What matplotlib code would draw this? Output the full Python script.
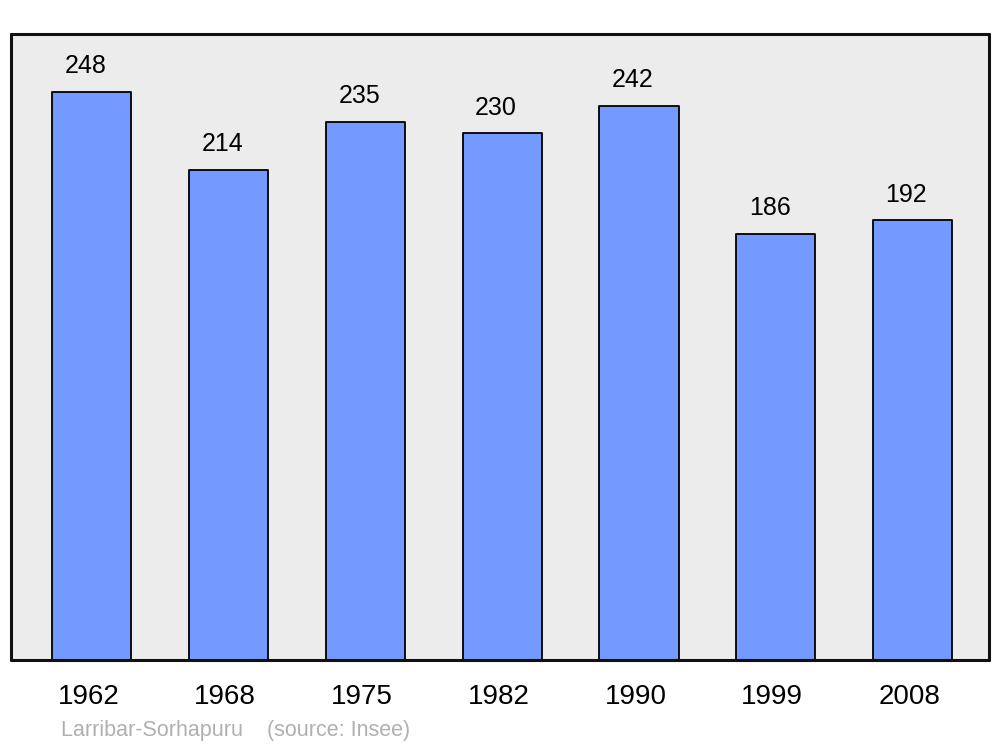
import matplotlib
matplotlib.use("Agg")
import matplotlib.pyplot as plt
from matplotlib.transforms import ScaledTranslation

years = ["1962", "1968", "1975", "1982", "1990", "1999", "2008"]
population = [248, 214, 235, 230, 242, 186, 192]
commune = "Larribar-Sorhapuru"
source = "(source: Insee)"

plt.rcParams['font.family'] = ['Liberation Sans', 'DejaVu Sans']

fig = plt.figure(figsize=(10, 7.47), dpi=100)
ax = fig.add_axes([0.011, 0.1165, 0.978, 0.838])
ax.set_facecolor("#ececec")

x = list(range(len(years)))
ax.bar(x, population, width=0.578, color="#7499ff", edgecolor="black",
       linewidth=1.3, joinstyle="round", zorder=2)

# value labels above the bars (slightly left of centre, like the original)
for xi, v in zip(x, population):
    ax.annotate(str(v), (xi, v), xytext=(-4.5, 18.5), textcoords="offset points",
                ha="center", va="center", fontsize=18)

ax.set_xlim(-0.592, 6.559)
ax.set_ylim(0, 273.4)
ax.set_xticks(x)
ax.set_xticklabels(years, fontsize=20)
ax.tick_params(axis="x", length=0, pad=17.5)
ax.set_yticks([])
shift = ScaledTranslation(-2.5 / 72, 0, fig.dpi_scale_trans)
for lbl in ax.get_xticklabels():
    lbl.set_transform(lbl.get_transform() + shift)

for s in ax.spines.values():
    s.set_linewidth(2.2)
    s.set_color("#111111")
    s.set_capstyle("round")

fig.text(0.061, 0.022, commune + "    " + source, color="#b0b0b0",
         fontsize=15.5, ha="left", va="center")

fig.savefig("out.png", dpi=100)
